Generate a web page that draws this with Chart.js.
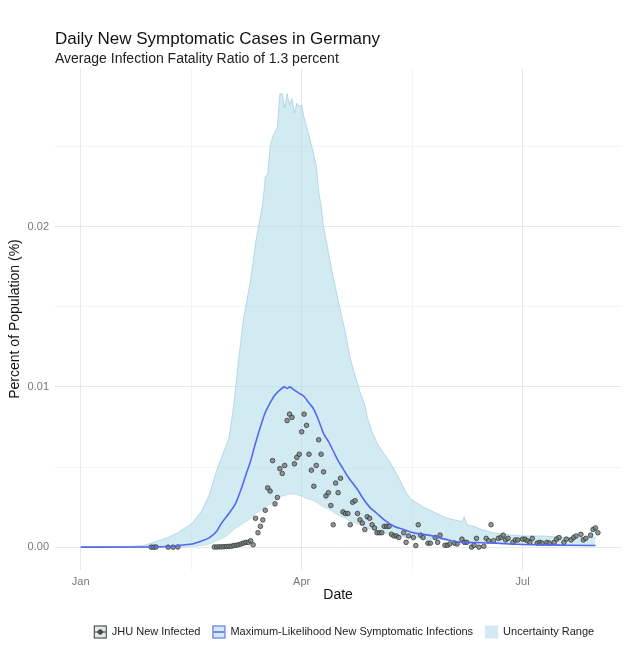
<!DOCTYPE html>
<html>
<head>
<meta charset="utf-8">
<script src="https://cdn.jsdelivr.net/npm/chart.js@4.4.1/dist/chart.umd.min.js"></script>
<style>
  html, body { margin: 0; padding: 0; background: #fff; }
</style>
</head>
<body>
<canvas id="grafico" width="626" height="645"></canvas>
<script>
// days counted from 1 Jan 2020, values in percent of population
const xTickDays = [0, 45.5, 91, 136.5, 182];
const xTickLabels = ["Jan", "", "Apr", "", "Jul"];
const yTicks = [0, 0.005, 0.01, 0.015, 0.02, 0.025];
const yTickLabels = ["0.00", "", "0.01", "", "0.02", ""];

const bandDays = [0, 10, 20, 26, 32, 36, 40, 43, 46, 50, 53, 56, 59, 61, 63, 65, 67, 70, 72, 73, 75, 76, 77, 78, 79, 80, 81, 82, 83, 84, 85, 86, 87, 88, 89, 90, 91, 92, 94, 96, 97, 98, 99, 100, 102, 103, 106, 109, 111, 113, 115, 117, 118, 120, 122, 125, 127, 130, 132, 134, 136, 138, 141, 144, 148, 151, 154, 157, 158, 159, 162, 165, 170, 174, 182, 190, 200, 212];
const bandLow = [0, 0, 0, 0, 0, 0, 0.00001, 0.00002, 0.00005, 0.0001, 0.0002, 0.0004, 0.0006, 0.0008, 0.0011, 0.0013, 0.0015, 0.0018, 0.0021, 0.0022, 0.0024, 0.0025, 0.0026, 0.0027, 0.0028, 0.0029, 0.003, 0.0031, 0.0032, 0.0032, 0.0033, 0.0033, 0.0033, 0.0033, 0.0033, 0.0032, 0.0032, 0.0031, 0.003, 0.0029, 0.0028, 0.0027, 0.0026, 0.0025, 0.0024, 0.0023, 0.002, 0.0018, 0.0016, 0.0015, 0.0014, 0.0013, 0.0012, 0.0011, 0.001, 0.0009, 0.0008, 0.0007, 0.0007, 0.0006, 0.0006, 0.0006, 0.0005, 0.0005, 0.0005, 0.0004, 0.0004, 0.0004, 0.0004, 0.0004, 0.0003, 0.0003, 0.00025, 0.0002, 0.00015, 0.00013, 0.00012, 0.00011];
const bandHigh = [0.00002, 0.00002, 0.00004, 0.0001, 0.0004, 0.0006, 0.0009, 0.0012, 0.0015, 0.0023, 0.0033, 0.0048, 0.006, 0.0068, 0.0088, 0.0117, 0.0142, 0.0167, 0.019, 0.0198, 0.0215, 0.0231, 0.0233, 0.025, 0.0256, 0.0259, 0.0262, 0.0283, 0.0283, 0.0274, 0.0283, 0.0276, 0.028, 0.0271, 0.0277, 0.0275, 0.0276, 0.0268, 0.0257, 0.0245, 0.0238, 0.0222, 0.0213, 0.02, 0.0184, 0.0176, 0.0154, 0.0134, 0.0118, 0.0107, 0.0097, 0.0089, 0.0081, 0.0072, 0.0065, 0.0058, 0.0054, 0.0046, 0.004, 0.0034, 0.003, 0.0028, 0.0025, 0.0023, 0.002, 0.0018, 0.0017, 0.0016, 0.0019, 0.0014, 0.0013, 0.0011, 0.0009, 0.0008, 0.0007, 0.0007, 0.0006, 0.0006];

const mlDays = [0, 30, 36, 40, 43, 46, 50, 53, 56, 58, 61, 64, 66, 68, 70, 72, 74, 76, 78, 80, 82, 84, 85, 86, 88, 90, 92, 94, 96, 98, 100, 102, 104, 106, 108, 110, 112, 114, 116, 119, 122, 125, 129, 133, 137, 141, 145, 150, 157, 165, 171, 180, 190, 200, 212];
const mlValues = [0, 0.00001, 0.00004, 0.0001, 0.00015, 0.0002, 0.0004, 0.0006, 0.001, 0.0015, 0.0021, 0.0028, 0.0036, 0.0045, 0.0054, 0.0065, 0.0075, 0.0084, 0.009, 0.0095, 0.0098, 0.01, 0.0099, 0.01, 0.0098, 0.0096, 0.0094, 0.009, 0.0086, 0.0079, 0.0071, 0.0066, 0.006, 0.0054, 0.0049, 0.0044, 0.004, 0.0036, 0.0031, 0.0025, 0.0021, 0.0017, 0.0013, 0.0011, 0.0009, 0.0008, 0.0007, 0.0005, 0.0003, 0.00028, 0.00025, 0.00018, 0.00014, 0.00012, 0.0001];

const jhuDays = [29, 30, 31, 36, 38, 40, 55, 56, 57, 58, 59, 60, 61, 62, 63, 64, 65, 66, 67, 68, 69, 70, 71, 72, 73, 74, 75, 76, 77, 78, 79, 80, 81, 82, 83, 84, 85, 86, 87, 88, 89, 90, 91, 92, 93, 94, 95, 96, 97, 98, 99, 100, 101, 102, 103, 104, 105, 106, 107, 108, 109, 110, 111, 112, 113, 114, 115, 116, 117, 118, 119, 120, 121, 122, 123, 124, 125, 126, 127, 128, 129, 130, 131, 133, 134, 135, 137, 138, 139, 140, 141, 143, 144, 146, 147, 148, 150, 151, 152, 154, 155, 157, 158, 159, 161, 162, 163, 164, 166, 167, 168, 169, 170, 172, 173, 174, 175, 176, 178, 179, 180, 182, 183, 184, 185, 186, 188, 189, 190, 192, 193, 195, 196, 197, 199, 200, 202, 203, 204, 206, 207, 208, 210, 211, 212, 213];
const jhuValues = [0, 0, 0.00001, 0, 0, 0.00001, 0.00001, 0.00001, 0.00002, 0.00002, 0.00003, 0.00004, 0.00005, 0.00006, 0.0001, 0.00012, 0.00015, 0.0002, 0.00025, 0.0003, 0.0003, 0.0004, 0.00015, 0.0018, 0.0009, 0.0013, 0.0017, 0.0023, 0.0037, 0.0035, 0.0054, 0.0027, 0.0031, 0.0049, 0.0046, 0.0051, 0.0079, 0.0083, 0.0081, 0.0052, 0.0056, 0.0058, 0.0072, 0.0083, 0.0076, 0.0058, 0.0048, 0.0038, 0.0051, 0.0067, 0.0058, 0.0047, 0.0032, 0.0034, 0.0026, 0.0014, 0.004, 0.0034, 0.0043, 0.0022, 0.0021, 0.0021, 0.0014, 0.0028, 0.0029, 0.0021, 0.0017, 0.0015, 0.0011, 0.0019, 0.0018, 0.0014, 0.0012, 0.0009, 0.0009, 0.0009, 0.0013, 0.0013, 0.0013, 0.0008, 0.0007, 0.0007, 0.0006, 0.0009, 0.0003, 0.0007, 0.0006, 0.0001, 0.0014, 0.00075, 0.0006, 0.00025, 0.00025, 0.0006, 0.0003, 0.00075, 0.00012, 0.00012, 0.0002, 0.00025, 0.0002, 0.0005, 0.0003, 0.0003, 0, 0.00012, 0.00055, 0, 0.00006, 0.00055, 0.0004, 0.0014, 0.0004, 0.00055, 0.0006, 0.00075, 0.00045, 0.00055, 0.0003, 0.00045, 0.00045, 0.0005, 0.0005, 0.0004, 0.0003, 0.00055, 0.00025, 0.0003, 0.00025, 0.0003, 0.00025, 0.0003, 0.0005, 0.0006, 0.0003, 0.0005, 0.00045, 0.0006, 0.0007, 0.0008, 0.00045, 0.00055, 0.00075, 0.0011, 0.0012, 0.0009];

const titulo = "Daily New Symptomatic Cases in Germany";
const subtitulo = "Average Infection Fatality Ratio of 1.3 percent";
const legendLabels = ["JHU New Infected", "Maximum-Likelihood New Symptomatic Infections", "Uncertainty Range"];

const fonte = "'Liberation Sans', Arial, sans-serif";
Chart.defaults.font.family = fonte;

const corLinha = "#5468ee";
const corBanda = "rgba(173, 216, 230, 0.55)";
const corBordaBanda = "rgba(140, 195, 215, 0.7)";

function pares(xs, ys) {
  return xs.map((x, i) => ({ x: x, y: ys[i] }));
}

function desenharChave(c, i, x, y, s) {
  if (i === 0) {
    c.fillStyle = "#e3e8ea";
    c.fillRect(x, y, s, s);
    c.strokeStyle = "#3a3a3a";
    c.lineWidth = 1;
    c.strokeRect(x + 0.5, y + 0.5, s - 1, s - 1);
    c.beginPath();
    c.moveTo(x + 1, y + s / 2);
    c.lineTo(x + s - 1, y + s / 2);
    c.stroke();
    c.beginPath();
    c.arc(x + s / 2, y + s / 2, 2.2, 0, Math.PI * 2);
    c.fillStyle = "#555";
    c.fill();
    c.stroke();
  } else if (i === 1) {
    c.fillStyle = corBanda;
    c.fillRect(x, y, s, s);
    c.strokeStyle = corLinha;
    c.lineWidth = 1;
    c.strokeRect(x + 0.5, y + 0.5, s - 1, s - 1);
    c.lineWidth = 1.5;
    c.beginPath();
    c.moveTo(x + 1, y + s / 2);
    c.lineTo(x + s - 1, y + s / 2);
    c.stroke();
  } else {
    c.fillStyle = corBanda;
    c.fillRect(x, y, s, s);
  }
}

const textosPlugin = {
  id: "textos",
  afterDraw(chart) {
    const c = chart.ctx;
    c.save();
    c.textAlign = "left";
    c.textBaseline = "alphabetic";
    c.fillStyle = "#111";
    c.font = "17px " + fonte;
    c.fillText(titulo, 55, 44);
    c.fillStyle = "#222";
    c.font = "14px " + fonte;
    c.fillText(subtitulo, 55, 63);

    // legenda
    c.font = "11px " + fonte;
    const chave = 13, gapChave = 5, gapItem = 12;
    const larguras = legendLabels.map((t) => c.measureText(t).width);
    let total = gapItem * (larguras.length - 1);
    larguras.forEach((w) => (total += chave + gapChave + w));
    let x = 344 - total / 2;
    const y = 632;
    legendLabels.forEach((t, i) => {
      desenharChave(c, i, x, y - chave / 2, chave);
      c.fillStyle = "#222";
      c.textBaseline = "middle";
      c.fillText(t, x + chave + gapChave, y);
      x += chave + gapChave + larguras[i] + gapItem;
    });
    c.restore();
  },
};

const ctx = document.getElementById("grafico").getContext("2d");

let grafico = new Chart(ctx, {
  type: "line",
  data: {
    datasets: [
      {
        label: "lower",
        data: pares(bandDays, bandLow),
        borderColor: corBordaBanda,
        borderWidth: 0.6,
        pointRadius: 0,
        fill: false,
        order: 4,
      },
      {
        label: "Uncertainty Range",
        data: pares(bandDays, bandHigh),
        borderColor: corBordaBanda,
        borderWidth: 0.8,
        backgroundColor: corBanda,
        pointRadius: 0,
        fill: "-1",
        order: 3,
      },
      {
        label: "JHU New Infected",
        data: pares(jhuDays, jhuValues),
        showLine: false,
        pointRadius: 2.3,
        pointBackgroundColor: "rgba(120, 126, 126, 0.8)",
        pointBorderColor: "rgba(40, 44, 44, 0.9)",
        pointBorderWidth: 0.8,
        order: 2,
      },
      {
        label: "Maximum-Likelihood New Symptomatic Infections",
        data: pares(mlDays, mlValues),
        borderColor: corLinha,
        borderWidth: 1.6,
        pointRadius: 0,
        cubicInterpolationMode: "monotone",
        fill: false,
        order: 1,
      },
    ],
  },
  options: {
    responsive: false,
    animation: false,
    devicePixelRatio: 1,
    layout: { padding: { top: 68, right: 0, bottom: 35, left: 0 } },
    plugins: {
      legend: { display: false },
      tooltip: { enabled: false },
    },
    scales: {
      x: {
        type: "linear",
        min: -10.6,
        max: 222.6,
        afterBuildTicks: (s) => {
          s.ticks = xTickDays.map((v) => ({ value: v }));
        },
        afterFit: (s) => {
          s.height = 40;
        },
        ticks: {
          autoSkip: false,
          maxRotation: 0,
          padding: 5,
          color: "#777",
          font: { size: 11 },
          callback: (v, i) => xTickLabels[i],
        },
        grid: {
          drawTicks: false,
          color: (c) => (xTickLabels[c.index] ? "#e8e8e8" : "#efefef"),
          lineWidth: (c) => (xTickLabels[c.index] ? 1 : 0.7),
        },
        border: { display: false },
        title: {
          display: true,
          text: "Date",
          color: "#111",
          font: { size: 14 },
          padding: { top: 0, bottom: 6 },
        },
      },
      y: {
        min: -0.001425,
        max: 0.0299,
        afterBuildTicks: (s) => {
          s.ticks = yTicks.map((v) => ({ value: v }));
        },
        afterFit: (s) => {
          s.width = 55;
        },
        ticks: {
          padding: 6,
          color: "#777",
          font: { size: 11 },
          callback: (v, i) => yTickLabels[i],
        },
        grid: {
          drawTicks: false,
          color: (c) => (yTickLabels[c.index] ? "#e8e8e8" : "#efefef"),
          lineWidth: (c) => (yTickLabels[c.index] ? 1 : 0.7),
        },
        border: { display: false },
        title: {
          display: true,
          text: "Percent of Population (%)",
          color: "#111",
          font: { size: 14 },
          padding: { top: 7, bottom: 0 },
        },
      },
    },
  },
  plugins: [textosPlugin],
});
</script>
</body>
</html>
